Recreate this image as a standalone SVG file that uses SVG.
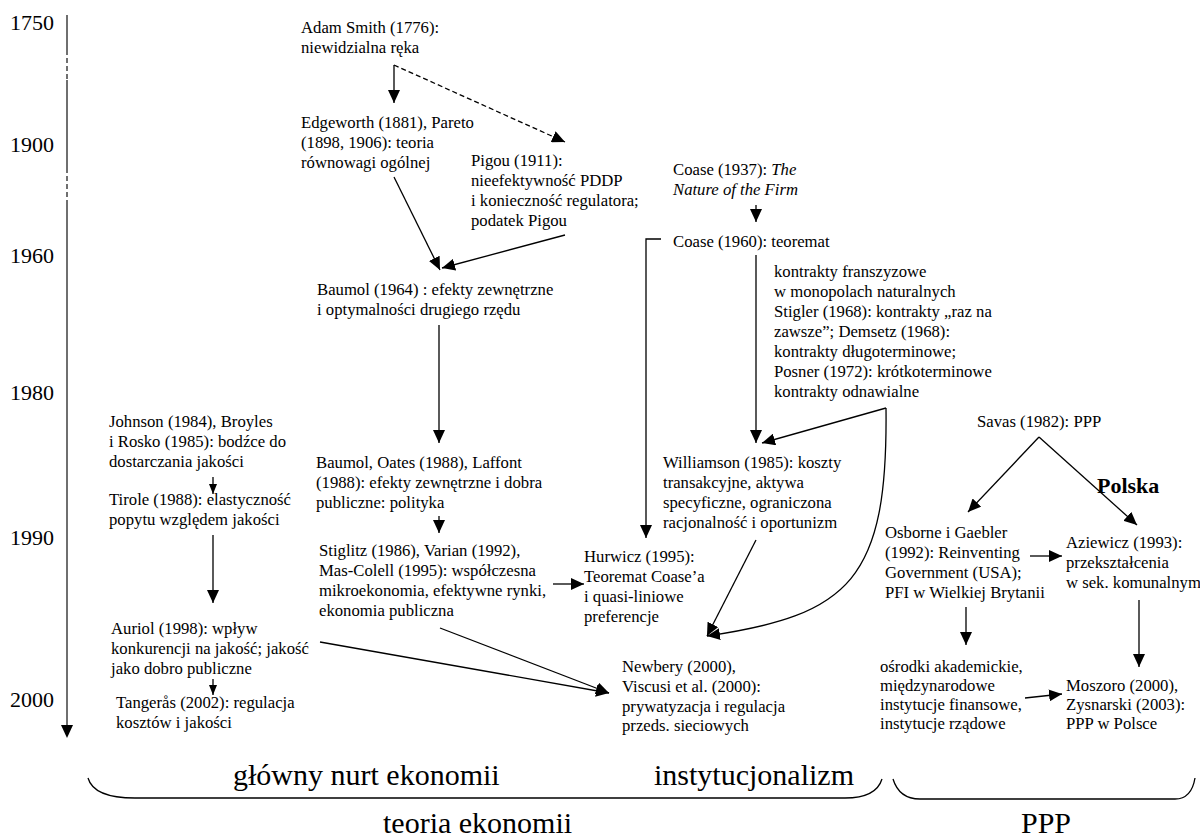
<svg xmlns="http://www.w3.org/2000/svg" width="1200" height="837" viewBox="0 0 1200 837" font-family="Liberation Serif, serif">
<style>
text{font-family:"Liberation Serif",serif;fill:#000}
.t{font-size:16.7px}
.y{font-size:22px}
.big{font-size:30px}
.b{font-size:22px;font-weight:bold}
.c{stroke:#000;stroke-width:1.3;fill:none}
.d{stroke-dasharray:5,3}
</style>
<defs>
<marker id="ah" viewBox="0 0 13 12" refX="13" refY="6" markerWidth="13" markerHeight="12" markerUnits="userSpaceOnUse" orient="auto"><path d="M0,0L13,6L0,12z" fill="#000"/></marker>
<marker id="as" viewBox="0 0 10 8" refX="10" refY="4" markerWidth="10" markerHeight="8" markerUnits="userSpaceOnUse" orient="auto"><path d="M0,0L10,4L0,8z" fill="#000"/></marker>
</defs>
<rect width="1200" height="837" fill="#fff"/>
<g id="axis">
<path d="M67,15V50M67,80V168M67,200V726" stroke="#333" stroke-width="1.4" fill="none"/>
<path d="M67,50V80M67,168V200" stroke="#333" stroke-width="1.4" stroke-dasharray="5,3" fill="none"/>
<path d="M61,725L73,725L67,738z" fill="#000"/>
<text class="y" x="10" y="30">1750</text>
<text class="y" x="10" y="152">1900</text>
<text class="y" x="10" y="263">1960</text>
<text class="y" x="10" y="400">1980</text>
<text class="y" x="10" y="545">1990</text>
<text class="y" x="10" y="707">2000</text>
</g>
<g id="connectors">
<path class="c" d="M394,65V103" marker-end="url(#ah)"/>
<path class="c d" d="M394,65L565,142" marker-end="url(#ah)"/>
<path class="c" d="M394,177L440,270" marker-end="url(#ah)"/>
<path class="c" d="M565,235L442,268" marker-end="url(#ah)"/>
<path class="c" d="M439,325V443" marker-end="url(#ah)"/>
<path class="c" d="M439,516V533" marker-end="url(#ah)"/>
<path class="c" d="M553,584H584" marker-end="url(#ah)"/>
<path class="c" d="M213,477V494" marker-end="url(#as)"/>
<path class="c" d="M213,535V603" marker-end="url(#ah)"/>
<path class="c" d="M213,679V695" marker-end="url(#as)"/>
<path class="c" d="M320,642L609,693" marker-end="url(#ah)"/>
<path class="c" d="M440,628L609,693" marker-end="url(#ah)"/>
<path class="c" d="M756,205V222" marker-end="url(#ah)"/>
<path class="c" d="M661,239H646V538" marker-end="url(#ah)"/>
<path class="c" d="M756,255V443" marker-end="url(#ah)"/>
<path class="c" d="M886,408L762,443" marker-end="url(#ah)"/>
<path class="c" d="M886,408C888,580 850,615 707,636" marker-end="url(#ah)"/>
<path class="c" d="M756,540L707,636" marker-end="url(#ah)"/>
<path class="c" d="M1039,437L968,512" marker-end="url(#ah)"/>
<path class="c" d="M1039,437L1137,525" marker-end="url(#ah)"/>
<path class="c" d="M1030,556H1062" marker-end="url(#ah)"/>
<path class="c" d="M966,607V645" marker-end="url(#ah)"/>
<path class="c" d="M1139,600V667" marker-end="url(#ah)"/>
<path class="c" d="M1025,698L1062,694" marker-end="url(#ah)"/>
</g>
<g id="smith"><text class="t"><tspan x="301" y="33">Adam Smith (1776):</tspan><tspan x="301" y="53">niewidzialna ręka</tspan></text></g>
<g id="edgeworth"><text class="t"><tspan x="301" y="128">Edgeworth (1881), Pareto</tspan><tspan x="301" y="148">(1898, 1906): teoria</tspan><tspan x="301" y="168">równowagi ogólnej</tspan></text></g>
<g id="pigou"><text class="t"><tspan x="471" y="166">Pigou (1911):</tspan><tspan x="471" y="186">nieefektywność PDDP</tspan><tspan x="471" y="206">i konieczność regulatora;</tspan><tspan x="471" y="226">podatek Pigou</tspan></text></g>
<g id="baumol1964"><text class="t"><tspan x="317" y="295">Baumol (1964) : efekty zewnętrzne</tspan><tspan x="317" y="315">i optymalności drugiego rzędu</tspan></text></g>
<g id="baumol1988"><text class="t"><tspan x="316" y="468">Baumol, Oates (1988), Laffont</tspan><tspan x="316" y="488">(1988): efekty zewnętrzne i dobra</tspan><tspan x="316" y="508">publiczne: polityka</tspan></text></g>
<g id="stiglitz"><text class="t"><tspan x="319" y="556">Stiglitz (1986), Varian (1992),</tspan><tspan x="319" y="576">Mas-Colell (1995): współczesna</tspan><tspan x="319" y="596">mikroekonomia, efektywne rynki,</tspan><tspan x="319" y="616">ekonomia publiczna</tspan></text></g>
<g id="johnson"><text class="t"><tspan x="109" y="427">Johnson (1984), Broyles</tspan><tspan x="109" y="447">i Rosko (1985): bodźce do</tspan><tspan x="109" y="467">dostarczania jakości</tspan></text></g>
<g id="tirole"><text class="t"><tspan x="109" y="505">Tirole (1988): elastyczność</tspan><tspan x="109" y="525">popytu względem jakości</tspan></text></g>
<g id="auriol"><text class="t"><tspan x="111" y="634">Auriol (1998): wpływ</tspan><tspan x="111" y="654">konkurencji na jakość; jakość</tspan><tspan x="111" y="674">jako dobro publiczne</tspan></text></g>
<g id="tangeras"><text class="t"><tspan x="116" y="708">Tangerås (2002): regulacja</tspan><tspan x="116" y="728">kosztów i jakości</tspan></text></g>
<g id="coase1937"><text class="t"><tspan x="673" y="175">Coase (1937): <tspan font-style="italic">The</tspan></tspan><tspan x="673" y="195" font-style="italic">Nature of the Firm</tspan></text></g>
<g id="coase1960"><text class="t" x="673" y="247">Coase (1960): teoremat</text></g>
<g id="kontrakty"><text class="t"><tspan x="774" y="277">kontrakty franszyzowe</tspan><tspan x="774" y="297">w monopolach naturalnych</tspan><tspan x="774" y="317">Stigler (1968): kontrakty „raz na</tspan><tspan x="774" y="337">zawsze”; Demsetz (1968):</tspan><tspan x="774" y="357">kontrakty długoterminowe;</tspan><tspan x="774" y="377">Posner (1972): krótkoterminowe</tspan><tspan x="774" y="397">kontrakty odnawialne</tspan></text></g>
<g id="williamson"><text class="t"><tspan x="663" y="468">Williamson (1985): koszty</tspan><tspan x="663" y="488">transakcyjne, aktywa</tspan><tspan x="663" y="508">specyficzne, ograniczona</tspan><tspan x="663" y="528">racjonalność i oportunizm</tspan></text></g>
<g id="hurwicz"><text class="t"><tspan x="584" y="562">Hurwicz (1995):</tspan><tspan x="584" y="582">Teoremat Coase’a</tspan><tspan x="584" y="602">i quasi-liniowe</tspan><tspan x="584" y="622">preferencje</tspan></text></g>
<g id="newbery"><text class="t"><tspan x="622" y="672">Newbery (2000),</tspan><tspan x="622" y="692">Viscusi et al. (2000):</tspan><tspan x="622" y="712">prywatyzacja i regulacja</tspan><tspan x="622" y="731">przeds. sieciowych</tspan></text></g>
<g id="savas"><text class="t" x="977" y="427">Savas (1982): PPP</text></g>
<g id="polska"><text class="b" x="1097" y="493">Polska</text></g>
<g id="osborne"><text class="t"><tspan x="885" y="538">Osborne i Gaebler</tspan><tspan x="885" y="558">(1992): Reinventing</tspan><tspan x="885" y="578">Government (USA);</tspan><tspan x="885" y="598">PFI w Wielkiej Brytanii</tspan></text></g>
<g id="aziewicz"><text class="t"><tspan x="1066" y="548">Aziewicz (1993):</tspan><tspan x="1066" y="568">przekształcenia</tspan><tspan x="1066" y="588">w sek. komunalnym</tspan></text></g>
<g id="osrodki"><text class="t"><tspan x="880" y="672">ośrodki akademickie,</tspan><tspan x="880" y="691">międzynarodowe</tspan><tspan x="880" y="710">instytucje finansowe,</tspan><tspan x="880" y="729">instytucje rządowe</tspan></text></g>
<g id="moszoro"><text class="t"><tspan x="1066" y="691">Moszoro (2000),</tspan><tspan x="1066" y="710">Zysnarski (2003):</tspan><tspan x="1066" y="729">PPP w Polsce</tspan></text></g>
<g id="braces">
<path class="c" d="M88,778C92,792 110,798 135,798H845C865,798 878,792 882,779"/>
<path class="c" d="M893,779C897,792 905,799 920,799H1175C1188,799 1193,790 1195,778"/>
</g>
<g id="labels">
<text class="big" x="233" y="785">główny nurt ekonomii</text>
<text class="big" x="654" y="785">instytucjonalizm</text>
<text class="big" x="383" y="833">teoria ekonomii</text>
<text class="big" x="1021" y="833">PPP</text>
</g>
</svg>
